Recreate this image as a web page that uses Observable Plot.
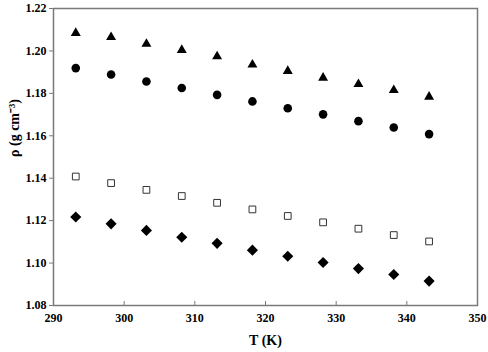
<!DOCTYPE html>
<html>
<head>
<meta charset="utf-8">
<script src="https://cdn.jsdelivr.net/npm/d3@7"></script>
<script src="https://cdn.jsdelivr.net/npm/@observablehq/plot@0.6"></script>
<style>
  html, body { margin: 0; padding: 0; background: #fff; }
  #chart { width: 488px; height: 352px; }
</style>
</head>
<body>
<div id="chart"></div>
<script>
const temperatures = [293.15, 298.15, 303.15, 308.15, 313.15, 318.15, 323.15, 328.15, 333.15, 338.15, 343.15];
const triangleSeries = [1.2084, 1.2065, 1.2033, 1.2004, 1.1974, 1.1935, 1.1905, 1.1873, 1.1843, 1.1815, 1.1784];
const circleSeries   = [1.1919, 1.1889, 1.1856, 1.1825, 1.1793, 1.1762, 1.1730, 1.1701, 1.1669, 1.1639, 1.1608];
const squareSeries   = [1.1408, 1.1377, 1.1345, 1.1316, 1.1284, 1.1253, 1.1222, 1.1192, 1.1162, 1.1132, 1.1102];
const diamondSeries  = [1.1217, 1.1185, 1.1154, 1.1122, 1.1093, 1.1061, 1.1032, 1.1003, 1.0974, 1.0946, 1.0915];
const xTicks = [290, 300, 310, 320, 330, 340, 350];
const yTicks = [1.08, 1.10, 1.12, 1.14, 1.16, 1.18, 1.20, 1.22];

const toRows = (vals) => temperatures.map((t, i) => ({T: t, rho: vals[i]}));

const font = "'Liberation Serif', 'Times New Roman', serif";
const axisColor = "#7a7a7a";
const W = 488, H = 352, mT = 8, mB = 47;
const innerH = H - mT - mB;

const chart = Plot.plot({
  width: W,
  height: H,
  marginLeft: 53,
  marginRight: 11,
  marginTop: mT,
  marginBottom: mB,
  style: {fontFamily: font, fontWeight: "bold", fontSize: "12px", background: "#fff", color: "#000"},
  x: {domain: [290, 350]},
  y: {domain: [1.08, 1.22]},
  marks: [
    Plot.frame({stroke: axisColor, strokeWidth: 1.5}),
    Plot.axisX({ticks: xTicks, tickSize: 0, tickPadding: 8, tickFormat: d3.format("d"), label: null, fontWeight: "bold", fontSize: 12}),
    Plot.tickX(xTicks.slice(1, -1), {x: d => d, stroke: axisColor, strokeWidth: 1, insetTop: innerH - 4}),
    Plot.axisY({ticks: yTicks, tickSize: 4, tickPadding: 3, tickFormat: d3.format(".2f"), stroke: axisColor, label: null, fontWeight: "bold", fontSize: 12}),
    Plot.dot(toRows(triangleSeries), {x: "T", y: "rho", symbol: "triangle", fill: "#000", r: 3.7}),
    Plot.dot(toRows(circleSeries), {x: "T", y: "rho", symbol: "circle", fill: "#000", r: 4.3}),
    Plot.dot(toRows(squareSeries), {x: "T", y: "rho", symbol: "square", fill: "#fff", stroke: "#333", strokeWidth: 1, r: 3.8}),
    Plot.dot(toRows(diamondSeries), {x: "T", y: "rho", symbol: "diamond2", fill: "#000", r: 5}),
    Plot.text(["T (K)"], {frameAnchor: "bottom", dy: 39, fontSize: 14, fontWeight: "bold"}),
    Plot.text(["ρ (g cm⁻³)"], {frameAnchor: "left", dx: -39, rotate: -90, fontSize: 14, fontWeight: "bold"})
  ]
});
document.getElementById("chart").appendChild(chart);
</script>
</body>
</html>
